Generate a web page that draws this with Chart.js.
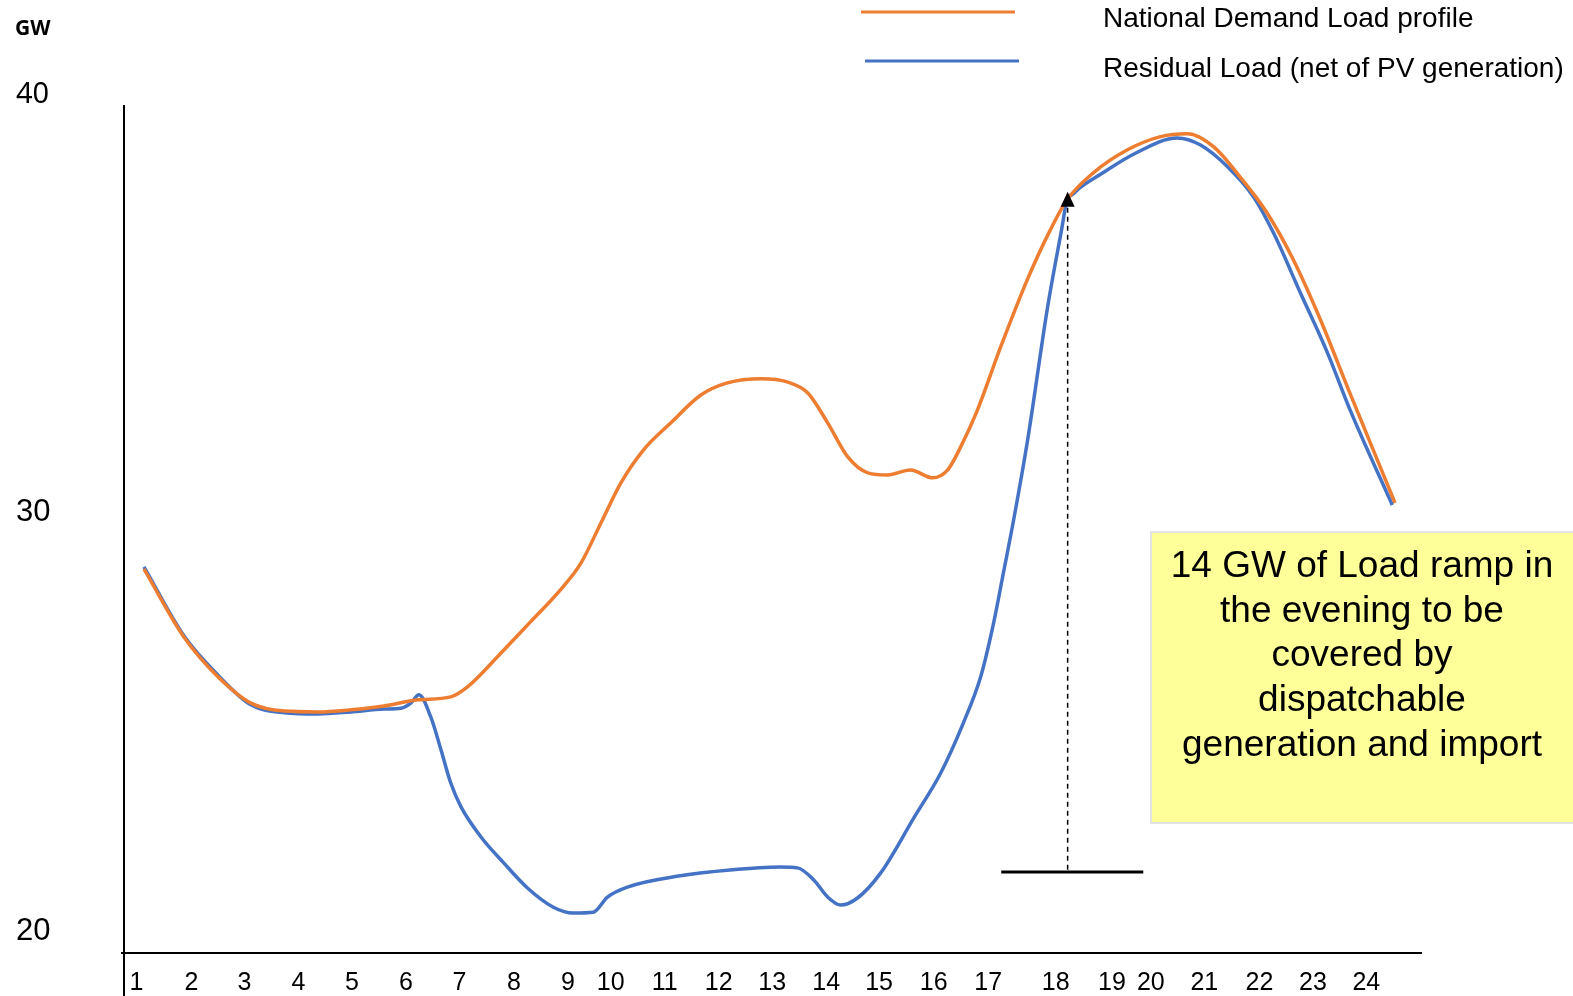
<!DOCTYPE html>
<html>
<head>
<meta charset="utf-8">
<script src="https://cdn.jsdelivr.net/npm/chart.js@4.4.1/dist/chart.umd.min.js"></script>
<style>
  html, body { margin: 0; padding: 0; background: #fff; }
</style>
</head>
<body>
<canvas id="load" width="1573" height="996"></canvas>
<script>
  // hour positions follow the (uneven) label spacing of the original axis
  const hourTickPos = [1, 2.02, 3, 4, 4.99, 5.99, 6.98, 7.99, 8.99, 9.78, 10.78, 11.78, 12.77,
    13.77, 14.75, 15.76, 16.77, 18.02, 19.06, 19.78, 20.77, 21.79, 22.78, 23.77];
  const hourTickLabels = ["1", "2", "3", "4", "5", "6", "7", "8", "9", "10", "11", "12", "13",
    "14", "15", "16", "17", "18", "19", "20", "21", "22", "23", "24"];
  const gwTicks = [20, 30, 40];

  const demandHours = [1.14, 1.88, 2.51, 3.12, 3.74, 4.36, 4.97, 5.58, 6.21, 6.82, 7.13, 7.75, 8.3,
    8.85, 9.23, 9.6, 9.97, 10.39, 10.89, 11.45, 11.94, 12.56, 13.06, 13.43, 13.8, 14.17, 14.54,
    14.91, 15.33, 15.74, 16.02, 16.26, 16.57, 17.0, 17.49, 17.92, 18.23, 18.71, 19.34, 19.96,
    20.46, 20.94, 21.43, 21.93, 22.42, 22.92, 23.42, 24.3];
  const demandGW = [28.66, 27.03, 26.08, 25.45, 25.26, 25.24, 25.29, 25.38, 25.53, 25.6, 25.84,
    26.65, 27.4, 28.16, 28.8, 29.76, 30.72, 31.51, 32.15, 32.82, 33.11, 33.21, 33.13, 32.87,
    32.15, 31.34, 30.96, 30.91, 31.03, 30.84, 31.03, 31.58, 32.46, 33.97, 35.57, 36.77, 37.49,
    38.13, 38.68, 39.0, 39.07, 38.76, 38.04, 37.18, 36.05, 34.62, 33.01, 30.24];

  const residualHours = [1.14, 1.88, 2.51, 3.12, 3.74, 4.36, 4.97, 5.58, 5.9, 6.08, 6.23, 6.45,
    6.64, 6.82, 7.01, 7.38, 7.8, 8.24, 8.72, 9.09, 9.46, 9.72, 10.09, 11.07, 11.99, 12.92, 13.24,
    13.54, 13.8, 14.04, 14.35, 14.78, 15.39, 15.89, 16.31, 16.63, 16.87, 17.05, 17.24, 17.5,
    17.87, 18.13, 18.23, 18.33, 18.47, 18.85, 19.46, 20.27, 20.7, 21.2, 21.68, 22.05, 22.55,
    23.05, 23.47, 24.25];
  const residualGW = [28.71, 27.06, 26.12, 25.41, 25.22, 25.19, 25.24, 25.31, 25.33, 25.45, 25.65,
    25.12, 24.33, 23.54, 22.97, 22.25, 21.63, 21.03, 20.57, 20.43, 20.45, 20.81, 21.05, 21.32,
    21.46, 21.53, 21.51, 21.22, 20.81, 20.62, 20.79, 21.39, 22.7, 23.78, 24.98, 26.08, 27.37,
    28.56, 29.83, 31.75, 34.93, 36.79, 37.49, 37.62, 37.78, 38.1, 38.58, 38.97, 38.8, 38.28,
    37.56, 36.7, 35.26, 33.83, 32.46, 30.19];

  const legendLabels = ["National Demand Load profile", "Residual Load (net of PV generation)"];
  const noteLines = ["14 GW of Load ramp in", "the evening to be", "covered by", "dispatchable",
    "generation and import"];

  // evening ramp marker
  const rampHour = 18.24;
  const rampTopGW = 37.49;
  const rampBaseGW = 21.41;
  const rampBaseFrom = 17.01;
  const rampBaseTo = 19.64;

  const ORANGE = "#ED7D31";
  const BLUE = "#4472C4";
  const SANS = "'Liberation Sans', Arial, sans-serif";

  const deco = {
    id: "deco",
    beforeDraw(chart) {
      const ctx = chart.ctx;
      ctx.save();
      ctx.fillStyle = "#fff";
      ctx.fillRect(0, 0, chart.width, chart.height);
      ctx.restore();
    },
    beforeDatasetsDraw(chart) {
      const { ctx, scales: { x, y } } = chart;
      ctx.save();
      ctx.strokeStyle = "#000";
      ctx.lineWidth = 2;
      ctx.beginPath();
      ctx.moveTo(x.left, 105);
      ctx.lineTo(x.left, chart.height);
      ctx.stroke();
      ctx.beginPath();
      ctx.moveTo(x.left - 3, y.bottom);
      ctx.lineTo(x.right, y.bottom);
      ctx.stroke();

      // dashed drop line + base bar
      const xr = x.getPixelForValue(rampHour);
      const yt = y.getPixelForValue(rampTopGW);
      const yb = y.getPixelForValue(rampBaseGW);
      ctx.lineWidth = 1.5;
      ctx.setLineDash([5, 4]);
      ctx.beginPath();
      ctx.moveTo(xr, yt + 8);
      ctx.lineTo(xr, yb);
      ctx.stroke();
      ctx.setLineDash([]);
      ctx.lineWidth = 3;
      ctx.beginPath();
      ctx.moveTo(x.getPixelForValue(rampBaseFrom), yb);
      ctx.lineTo(x.getPixelForValue(rampBaseTo), yb);
      ctx.stroke();
      ctx.restore();
    },
    afterDraw(chart) {
      const { ctx, scales: { x, y } } = chart;
      ctx.save();

      // arrow head at top of ramp
      const xr = x.getPixelForValue(rampHour);
      const yt = y.getPixelForValue(rampTopGW);
      ctx.fillStyle = "#000";
      ctx.beginPath();
      ctx.moveTo(xr, yt - 8);
      ctx.lineTo(xr + 7, yt + 7);
      ctx.lineTo(xr - 7, yt + 7);
      ctx.closePath();
      ctx.fill();

      // unit label
      ctx.font = "bold 21px 'Noto Sans', sans-serif";
      ctx.textBaseline = "alphabetic";
      ctx.textAlign = "left";
      ctx.fillText("GW", 15, 35);

      // legend
      ctx.lineWidth = 3;
      ctx.strokeStyle = ORANGE;
      ctx.beginPath();
      ctx.moveTo(861, 12);
      ctx.lineTo(1015, 12);
      ctx.stroke();
      ctx.strokeStyle = BLUE;
      ctx.beginPath();
      ctx.moveTo(865, 61);
      ctx.lineTo(1019, 61);
      ctx.stroke();
      ctx.font = "28px " + SANS;
      ctx.fillText(legendLabels[0], 1103, 27);
      ctx.fillText(legendLabels[1], 1103, 77);

      // note box
      ctx.fillStyle = "#FFFF99";
      ctx.fillRect(1151, 532, 422, 291);
      ctx.strokeStyle = "#E4E4E4";
      ctx.lineWidth = 2;
      ctx.strokeRect(1151, 532, 430, 291);
      ctx.fillStyle = "#000";
      ctx.font = "37px " + SANS;
      ctx.textAlign = "center";
      noteLines.forEach((t, i) => ctx.fillText(t, 1362, 577 + i * 44.7));
      ctx.restore();
    },
  };

  new Chart(document.getElementById("load"), {
    type: "line",
    data: {
      datasets: [
        {
          label: legendLabels[0],
          data: demandHours.map((h, i) => ({ x: h, y: demandGW[i] })),
          borderColor: ORANGE,
          borderWidth: 3.5,
          pointRadius: 0,
          cubicInterpolationMode: "monotone",
          fill: false,
        },
        {
          label: legendLabels[1],
          data: residualHours.map((h, i) => ({ x: h, y: residualGW[i] })),
          borderColor: BLUE,
          borderWidth: 3.5,
          pointRadius: 0,
          cubicInterpolationMode: "monotone",
          fill: false,
        },
      ],
    },
    options: {
      responsive: false,
      animation: false,
      layout: { padding: { left: 16, top: 84, right: 151, bottom: 0 } },
      plugins: { legend: { display: false }, tooltip: { enabled: false } },
      scales: {
        x: {
          type: "linear",
          min: 0.771,
          max: 24.8,
          afterBuildTicks: (s) => {
            s.ticks = hourTickPos.map((v) => ({ value: v }));
          },
          afterFit: (s) => {
            s.height = 43;
          },
          grid: { display: false },
          border: { display: false },
          ticks: {
            autoSkip: false,
            maxRotation: 0,
            padding: 7,
            color: "#000",
            font: { family: SANS, size: 25 },
            callback: (v, i) => hourTickLabels[i],
          },
        },
        y: {
          type: "linear",
          min: 19.474,
          max: 40.26,
          afterBuildTicks: (s) => {
            s.ticks = gwTicks.map((v) => ({ value: v }));
          },
          afterFit: (s) => {
            s.width = 108;
          },
          grid: { display: false },
          border: { display: false },
          ticks: {
            crossAlign: "far",
            padding: 0,
            color: "#000",
            font: (c) =>
              c.tick && c.tick.value === 40
                ? { family: "'Noto Sans', sans-serif", size: 29 }
                : { family: SANS, size: 31 },
            callback: (v) => String(v),
          },
        },
      },
    },
    plugins: [deco],
  });
</script>
</body>
</html>
